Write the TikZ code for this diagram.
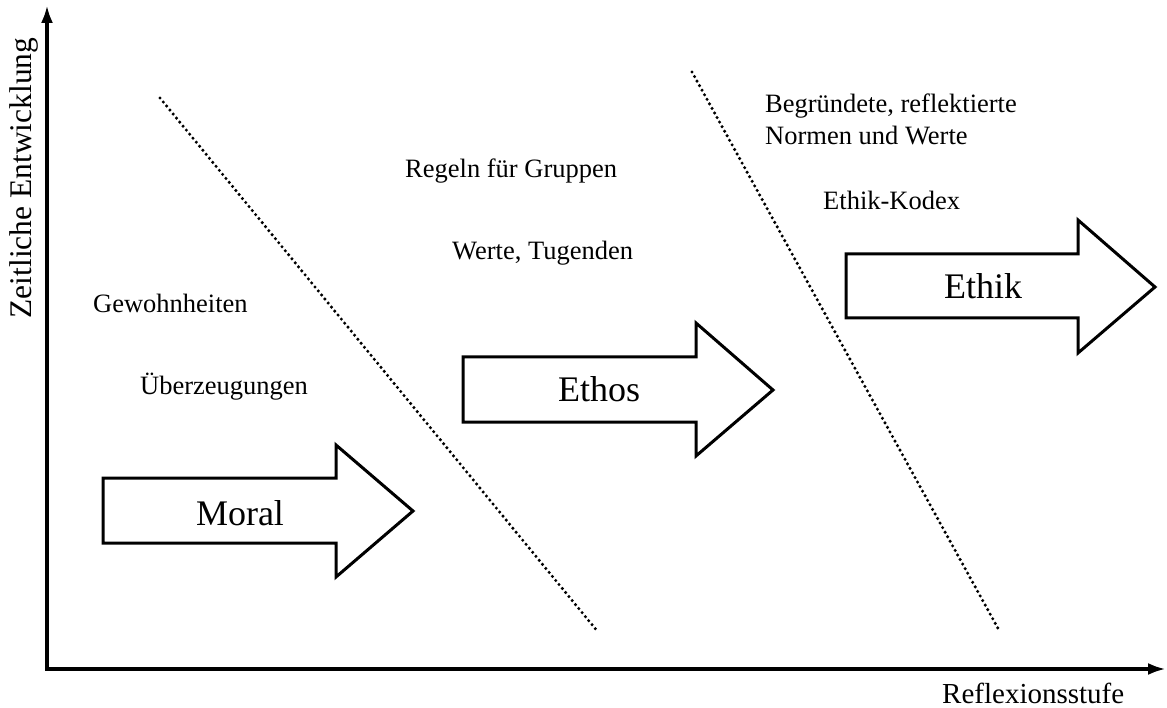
\documentclass[tikz,border=0pt]{standalone}
\usepackage{fontspec}
\setmainfont{Liberation Serif}
\usetikzlibrary{arrows.meta}
\begin{document}
\begin{tikzpicture}[x=1pt,y=-1pt,
  axis/.style={line width=4pt,-{Latex[length=18pt,width=12pt]}},
  bigarrow/.style={line width=3pt,draw=black,fill=white,line join=miter},
  sep/.style={line width=3.4pt,dash pattern=on 0pt off 5.2pt,line cap=round},
  small/.style={font=\fontsize{26.5}{32}\selectfont,inner sep=0pt},
  big/.style={font=\fontsize{36}{42}\selectfont,inner sep=0pt},
  axlabel/.style={font=\fontsize{29}{34}\selectfont,inner sep=0pt},
  vlabel/.style={font=\fontsize{31.5}{36}\selectfont,inner sep=0pt}]
\useasboundingbox (0,0) rectangle (1167,708);
% axes
\coordinate (O) at (47,669);
\coordinate (ytop) at (47,5);
\coordinate (xend) at (1166,669);
\draw[axis] (O) -- (ytop);
\draw[axis] ([xshift=-2pt]O) -- (xend);
\node[vlabel,rotate=90,anchor=base] (ylab) at (31,178) {Zeitliche Entwicklung};
\node[axlabel,anchor=base west] (xlab) at (942,703) {Reflexionsstufe};
% separators
\coordinate (s1a) at (160,98);
\coordinate (s1b) at (598,632);
\coordinate (s2a) at (692,72);
\coordinate (s2b) at (1000,632);
\draw[sep] (s1a) -- (s1b);
\draw[sep] (s2a) -- (s2b);
% big arrows
\draw[bigarrow] (103,478) -- (336,478) -- (336,445) -- (413,511) -- (336,577) -- (336,543) -- (103,543) -- cycle;
\draw[bigarrow] (463,357) -- (696,357) -- (696,323) -- (773,390) -- (696,456) -- (696,422) -- (463,422) -- cycle;
\draw[bigarrow] (846,254) -- (1078,254) -- (1078,220) -- (1155,287) -- (1078,353) -- (1078,318) -- (846,318) -- cycle;
\node[big,anchor=base] (moral) at (240,525) {Moral};
\node[big,anchor=base] (ethos) at (599,402) {Ethos};
\node[big,anchor=base] (ethik) at (983,299) {Ethik};
% small labels
\node[small,anchor=base west] (gew) at (93,313) {Gewohnheiten};
\node[small,anchor=base west] (ueb) at (140,395) {Überzeugungen};
\node[small,anchor=base west] (reg) at (405,178) {Regeln für Gruppen};
\node[small,anchor=base west] (wer) at (452,260) {Werte, Tugenden};
\node[small,anchor=base west] (beg) at (765,113) {Begründete, reflektierte};
\node[small,anchor=base west] (nor) at (765,145) {Normen und Werte};
\node[small,anchor=base west] (kod) at (823,210) {Ethik-Kodex};
\end{tikzpicture}
\end{document}
